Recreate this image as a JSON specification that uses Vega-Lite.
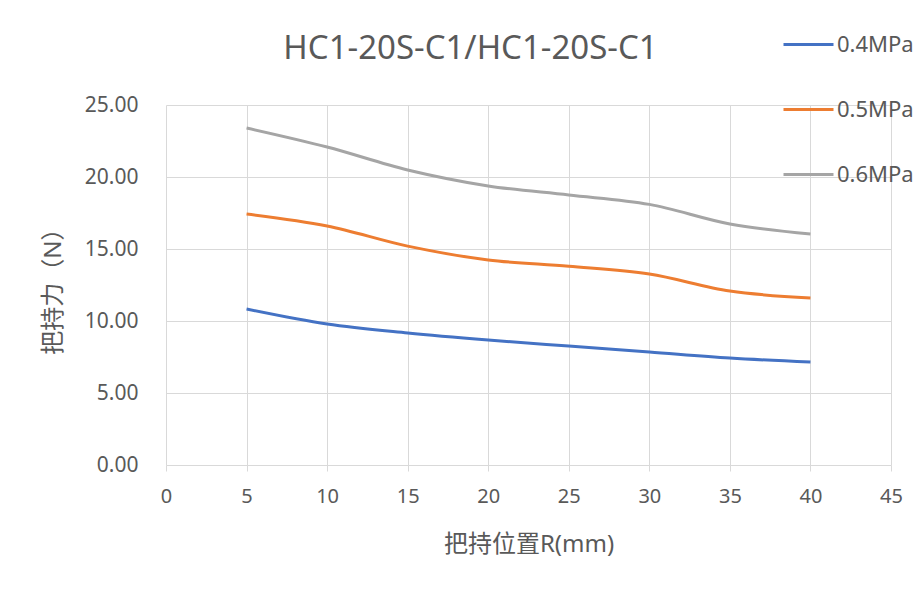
{
  "$schema": "https://vega.github.io/schema/vega-lite/v6.json",
  "width": 725,
  "height": 360,
  "autosize": {"type": "none"},
  "padding": {"left": 166, "top": 105, "right": 33, "bottom": 130},
  "background": "white",
  "config": {
    "font": "Noto Sans, Noto Sans CJK SC",
    "view": {"stroke": null}
  },
  "title": {
    "text": "HC1-20S-C1/HC1-20S-C1",
    "fontSize": 33,
    "fontWeight": "normal",
    "color": "#595959",
    "font": "Noto Sans, Noto Sans CJK SC",
    "anchor": "middle",
    "frame": "group",
    "dx": -58,
    "offset": -48
  },
  "data": {
    "values": [
      {"R": 5, "F": 10.83, "P": "0.4MPa"},
      {"R": 10, "F": 9.79, "P": "0.4MPa"},
      {"R": 15, "F": 9.17, "P": "0.4MPa"},
      {"R": 20, "F": 8.68, "P": "0.4MPa"},
      {"R": 25, "F": 8.26, "P": "0.4MPa"},
      {"R": 30, "F": 7.85, "P": "0.4MPa"},
      {"R": 35, "F": 7.43, "P": "0.4MPa"},
      {"R": 40, "F": 7.15, "P": "0.4MPa"},
      {"R": 5, "F": 17.43, "P": "0.5MPa"},
      {"R": 10, "F": 16.6, "P": "0.5MPa"},
      {"R": 15, "F": 15.2, "P": "0.5MPa"},
      {"R": 20, "F": 14.24, "P": "0.5MPa"},
      {"R": 25, "F": 13.8, "P": "0.5MPa"},
      {"R": 30, "F": 13.26, "P": "0.5MPa"},
      {"R": 35, "F": 12.08, "P": "0.5MPa"},
      {"R": 40, "F": 11.6, "P": "0.5MPa"},
      {"R": 5, "F": 23.4, "P": "0.6MPa"},
      {"R": 10, "F": 22.08, "P": "0.6MPa"},
      {"R": 15, "F": 20.49, "P": "0.6MPa"},
      {"R": 20, "F": 19.38, "P": "0.6MPa"},
      {"R": 25, "F": 18.75, "P": "0.6MPa"},
      {"R": 30, "F": 18.1, "P": "0.6MPa"},
      {"R": 35, "F": 16.74, "P": "0.6MPa"},
      {"R": 40, "F": 16.04, "P": "0.6MPa"}
    ]
  },
  "mark": {"type": "line", "interpolate": "catmull-rom", "strokeWidth": 3},
  "encoding": {
    "x": {
      "field": "R",
      "type": "quantitative",
      "scale": {"domain": [0, 45], "nice": false, "zero": false},
      "axis": {
        "title": "把持位置R(mm)",
        "titleFontSize": 24,
        "titleFontWeight": "normal",
        "titleColor": "#595959",
        "titlePadding": 26,
        "values": [0, 5, 10, 15, 20, 25, 30, 35, 40, 45],
        "labelFontSize": 20,
        "labelColor": "#595959",
        "labelPadding": 15,
        "labelFlush": false,
        "labelOverlap": false,
        "tickColor": "#d9d9d9",
        "tickSize": 6,
        "domain": false,
        "grid": true,
        "gridColor": "#d9d9d9",
        "gridWidth": 1
      }
    },
    "y": {
      "field": "F",
      "type": "quantitative",
      "scale": {"domain": [0, 25], "nice": false},
      "axis": {
        "title": "把持力（N）",
        "titleFontSize": 24,
        "titleFontWeight": "normal",
        "titleColor": "#595959",
        "titlePadding": 19,
        "values": [0, 5, 10, 15, 20, 25],
        "format": ".2f",
        "labelFontSize": 21,
        "labelColor": "#595959",
        "labelPadding": 28,
        "labelFlush": false,
        "ticks": false,
        "domain": false,
        "grid": true,
        "gridColor": "#d9d9d9",
        "gridWidth": 1
      }
    },
    "color": {
      "field": "P",
      "type": "nominal",
      "scale": {"domain": ["0.4MPa", "0.5MPa", "0.6MPa"], "range": ["#4472C4", "#ED7D31", "#A5A5A5"]},
      "legend": {
        "title": null,
        "orient": "none",
        "legendX": 616,
        "legendY": -87,
        "symbolType": "stroke",
        "symbolSize": 2500,
        "symbolStrokeWidth": 3,
        "labelFontSize": 22,
        "labelColor": "#595959",
        "labelOffset": 2,
        "rowPadding": 27,
        "labelLimit": 200
      }
    }
  }
}
